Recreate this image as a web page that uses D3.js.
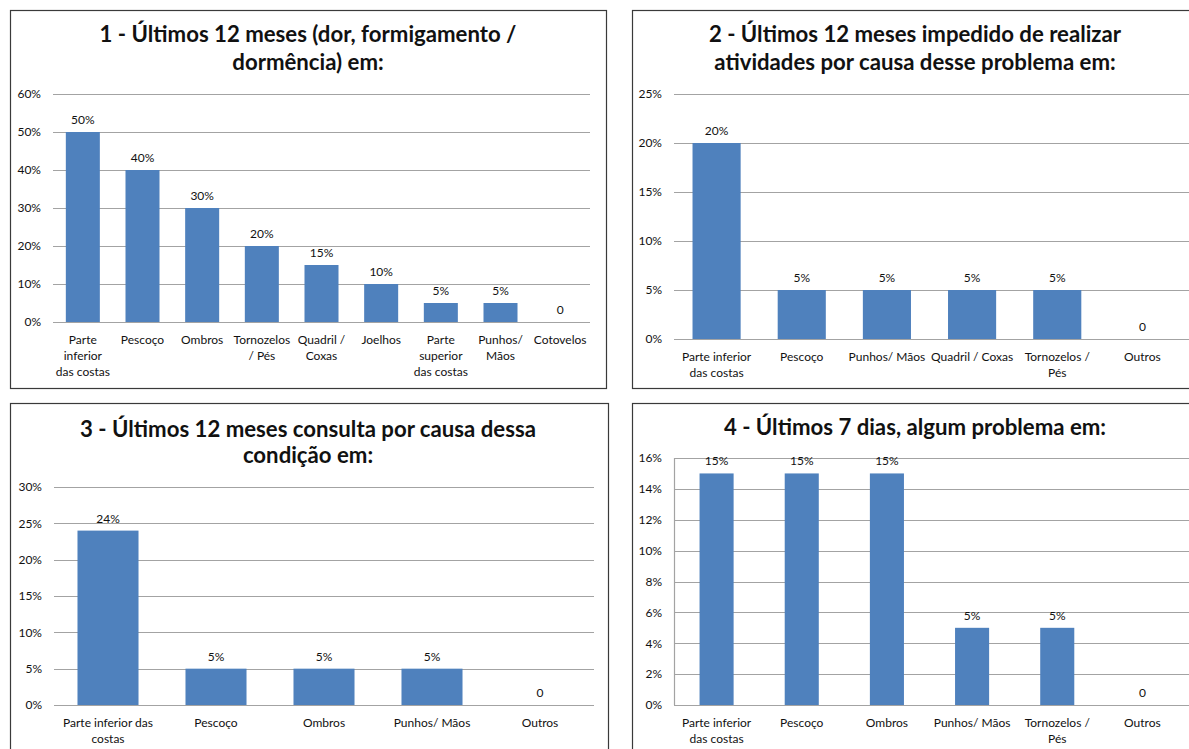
<!DOCTYPE html>
<html>
<head>
<meta charset="utf-8">
<script src="https://cdn.jsdelivr.net/npm/d3@7"></script>
<style>
  html, body { margin: 0; padding: 0; background: #fff; }
  svg { display: block; }
  text { font-family: Lato, "Noto Sans", sans-serif; fill: #111; }
</style>
</head>
<body>
<svg id="chart" width="1189" height="749"></svg>
<script>
// Survey results: share of respondents reporting symptoms by body region.
// "\n" in a category name marks a line break in its axis label.

const titles1 = ["1 - Últimos 12 meses (dor, formigamento /", "dormência) em:"];
const categories1 = ["Parte\ninferior\ndas costas", "Pescoço", "Ombros", "Tornozelos\n/ Pés", "Quadril /\nCoxas", "Joelhos", "Parte\nsuperior\ndas costas", "Punhos/\nMãos", "Cotovelos"];
const values1 = [50, 40, 30, 20, 15, 10, 5, 5, 0];
const ticks1 = [0, 10, 20, 30, 40, 50, 60];

const titles2 = ["2 - Últimos 12 meses impedido de realizar", "atividades por causa desse problema em:"];
const categories2 = ["Parte inferior\ndas costas", "Pescoço", "Punhos/ Mãos", "Quadril / Coxas", "Tornozelos /\nPés", "Outros"];
const values2 = [20, 5, 5, 5, 5, 0];
const ticks2 = [0, 5, 10, 15, 20, 25];

const titles3 = ["3 - Últimos 12 meses consulta por causa dessa", "condição em:"];
const categories3 = ["Parte inferior das\ncostas", "Pescoço", "Ombros", "Punhos/ Mãos", "Outros"];
const values3 = [24, 5, 5, 5, 0];
const ticks3 = [0, 5, 10, 15, 20, 25, 30];

const titles4 = ["4 - Últimos 7 dias, algum problema em:"];
const categories4 = ["Parte inferior\ndas costas", "Pescoço", "Ombros", "Punhos/ Mãos", "Tornozelos /\nPés", "Outros"];
const values4 = [15, 15, 15, 5, 5, 0];
const ticks4 = [0, 2, 4, 6, 8, 10, 12, 14, 16];

const BAR = "#4F81BD";
const GRID = "#a3a3a3";

const svg = d3.select("#chart");

function drawPanel(opt) {
  const g = svg.append("g");

  // frame
  g.append("rect")
    .attr("x", opt.box[0] + 0.5).attr("y", opt.box[1] + 0.5)
    .attr("width", opt.box[2] - opt.box[0]).attr("height", opt.box[3] - opt.box[1])
    .attr("fill", "#fff").attr("stroke", "#3a3a3a").attr("stroke-width", 1.2);

  // title
  opt.titles.forEach((t, i) => {
    g.append("text")
      .attr("x", opt.titleX).attr("y", opt.titleY[i])
      .attr("text-anchor", "middle")
      .style("font-weight", 700).style("font-size", "22.2px")
      .text(t);
  });

  const x = d3.scaleBand().domain(opt.categories).range(opt.xRange)
    .paddingInner(opt.pad).paddingOuter(opt.pad / 2);
  const yMax = opt.ticks[opt.ticks.length - 1];
  const y = d3.scaleLinear().domain([0, yMax]).range(opt.yRange);

  // value axis labels
  const yAxis = d3.axisLeft(y).tickValues(opt.ticks).tickSize(0).tickPadding(12)
    .tickFormat(d => d + "%");
  const ya = g.append("g").attr("transform", `translate(${opt.xRange[0]},0)`).call(yAxis);
  ya.select(".domain").remove();
  ya.selectAll("text").style("font-size", "12px").style("font-family", "Lato, sans-serif").attr("fill", "#111");

  // horizontal gridlines
  g.append("g").selectAll("line").data(opt.ticks).join("line")
    .attr("x1", opt.xRange[0]).attr("x2", opt.gridEnd)
    .attr("y1", d => Math.round(y(d)) + 0.5).attr("y2", d => Math.round(y(d)) + 0.5)
    .attr("stroke", GRID).attr("stroke-width", 1.2);

  if (opt.valueAxisLine) {
    g.append("line")
      .attr("x1", opt.xRange[0] + 0.5).attr("x2", opt.xRange[0] + 0.5)
      .attr("y1", y(yMax)).attr("y2", y(0))
      .attr("stroke", GRID).attr("stroke-width", 1.2);
  }

  // bars
  g.append("g").selectAll("rect").data(opt.values).join("rect")
    .attr("x", (d, i) => x(opt.categories[i]))
    .attr("width", x.bandwidth())
    .attr("y", d => y(d))
    .attr("height", d => y(0) - y(d))
    .attr("fill", BAR);

  // value labels
  g.append("g").selectAll("text").data(opt.values).join("text")
    .attr("x", (d, i) => x(opt.categories[i]) + x.bandwidth() / 2)
    .attr("y", d => y(d) - 8)
    .attr("text-anchor", "middle")
    .style("font-size", "12px")
    .text(d => d === 0 ? "0" : d + "%");

  // category labels (multi-line)
  const cl = g.append("g").selectAll("text").data(opt.categories).join("text")
    .attr("text-anchor", "middle")
    .style("font-size", "12px")
    .attr("transform", d => `translate(${x(d) + x.bandwidth() / 2},${y(0) + 22})`);
  cl.each(function (d) {
    d3.select(this).selectAll("tspan").data(d.split("\n")).join("tspan")
      .attr("x", 0).attr("y", (s, i) => i * 16).text(s => s);
  });
}

drawPanel({
  box: [10, 10, 606, 388], titles: titles1, titleX: 308, titleY: [42, 70],
  categories: categories1, values: values1, ticks: ticks1,
  xRange: [53, 590], gridEnd: 590, yRange: [322, 94], pad: 0.43
});

drawPanel({
  box: [632, 10, 1205, 388], titles: titles2, titleX: 915, titleY: [42, 70],
  categories: categories2, values: values2, ticks: ticks2,
  xRange: [674, 1185], gridEnd: 1195, yRange: [339, 94], pad: 0.435
});

drawPanel({
  box: [10, 403, 608, 765], titles: titles3, titleX: 308, titleY: [437, 463],
  categories: categories3, values: values3, ticks: ticks3,
  xRange: [54, 594], gridEnd: 594, yRange: [705, 487], pad: 0.435
});

drawPanel({
  box: [632, 403, 1205, 765], titles: titles4, titleX: 915, titleY: [435],
  categories: categories4, values: values4, ticks: ticks4,
  xRange: [674, 1185], gridEnd: 1195, yRange: [705, 458], pad: 0.6,
  valueAxisLine: true
});
</script>
</body>
</html>
